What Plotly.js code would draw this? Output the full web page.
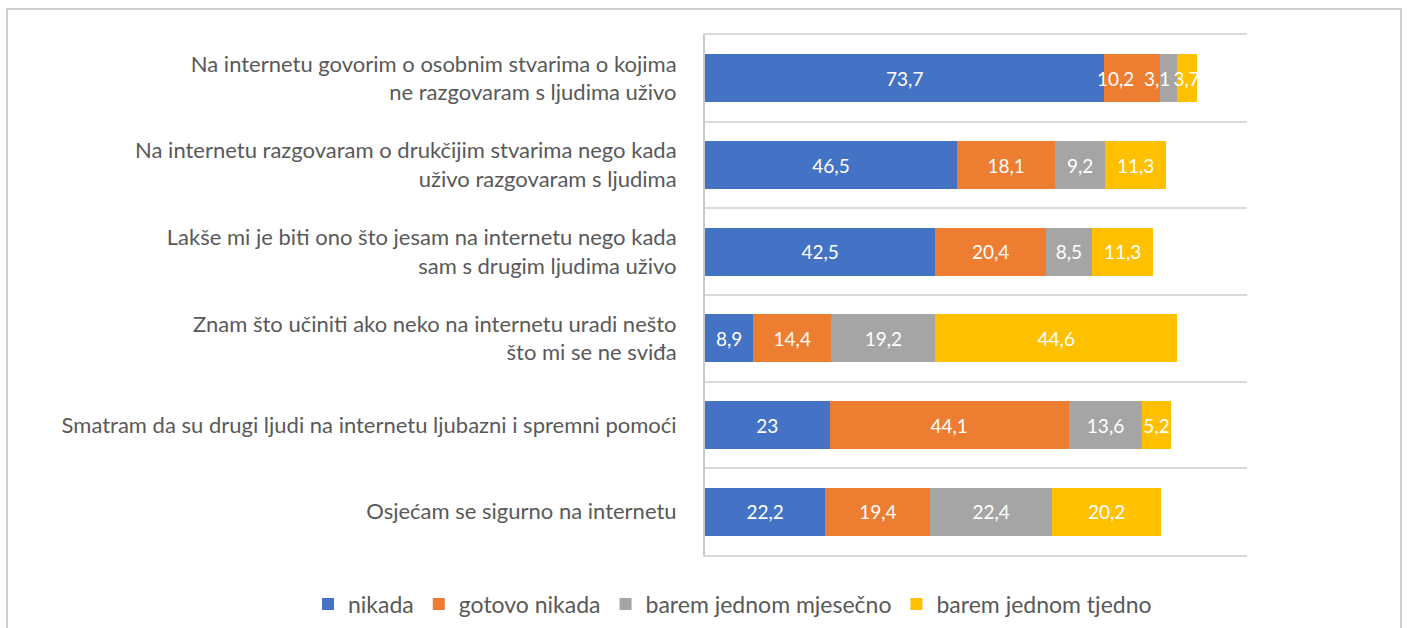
<!DOCTYPE html>
<html>
<head>
<meta charset="utf-8">
<script src="https://cdn.plot.ly/plotly-3.0.1.min.js"></script>
<style>
  html, body { margin: 0; padding: 0; background: #ffffff; }
  #chart { width: 1407px; height: 628px; }
  #frame { position: absolute; left: 6px; top: 8px; width: 1396px; height: 640px;
           border: 2px solid #d0d0d0; pointer-events: none; box-sizing: border-box; }
</style>
</head>
<body>
<div id="chart"></div>
<div id="frame"></div>
<script>
const categories = [
  "Na internetu govorim o osobnim stvarima o kojima<br>ne razgovaram s ljudima uživo",
  "Na internetu razgovaram o drukčijim stvarima nego kada<br>uživo razgovaram s ljudima",
  "Lakše mi je biti ono što jesam na internetu nego kada<br>sam s drugim ljudima uživo",
  "Znam što učiniti ako neko na internetu uradi nešto<br>što mi se ne sviđa",
  "Smatram da su drugi ljudi na internetu ljubazni i spremni pomoći",
  "Osjećam se sigurno na internetu"
];
const seriesNames = ["nikada", "gotovo nikada", "barem jednom mjesečno", "barem jednom tjedno"];
const nikada        = [73.7, 46.5, 42.5, 8.9, 23.0, 22.2];
const gotovoNikada  = [10.2, 18.1, 20.4, 14.4, 44.1, 19.4];
const mjesecno      = [3.1, 9.2, 8.5, 19.2, 13.6, 22.4];
const tjedno        = [3.7, 11.3, 11.3, 44.6, 5.2, 20.2];
const colors = ["#4472C4", "#ED7D31", "#A5A5A5", "#FFC000"];

// Label nudges for the crowded first row (style only): number of trailing figure spaces
// used to shift a label leftwards, as the reference does for the narrow segments.
const labelNudge = { "1-0": 3, "2-0": 2 };

const fmt = v => String(v).replace('.', ',');
const FONT = "Lato, 'Open Sans', sans-serif";

const traces = [nikada, gotovoNikada, mjesecno, tjedno].map((vals, i) => ({
  type: 'bar',
  orientation: 'h',
  name: seriesNames[i],
  x: vals,
  y: categories,
  text: vals.map((v, j) => fmt(v) + '\u2007'.repeat(labelNudge[i + '-' + j] || 0)),
  textposition: 'inside',
  insidetextanchor: 'middle',
  textangle: 0,
  constraintext: 'none',
  textfont: { family: FONT, size: 19, color: '#ffffff' },
  marker: { color: colors[i], line: { width: 0 } },
  hoverinfo: 'name+x'
}));

const layout = {
  width: 1407,
  height: 628,
  margin: { l: 705, r: 160, t: 35, b: 73, autoexpand: false },
  paper_bgcolor: '#ffffff',
  plot_bgcolor: '#ffffff',
  barmode: 'stack',
  bargap: 0.445,
  uniformtext: { mode: 'show', minsize: 19 },
  font: { family: FONT, color: '#595959', size: 22 },
  xaxis: {
    range: [0, 100],
    showgrid: false,
    zeroline: false,
    showticklabels: false,
    showline: true,
    mirror: true,
    linecolor: '#d9d9d9',
    linewidth: 2,
    ticks: '',
    fixedrange: true
  },
  yaxis: {
    type: 'category',
    categoryorder: 'array',
    categoryarray: categories,
    autorange: 'reversed',
    tickson: 'boundaries',
    showgrid: true,
    gridcolor: '#d9d9d9',
    gridwidth: 2,
    showline: true,
    linecolor: '#c8c8c8',
    linewidth: 2,
    ticks: '',
    ticklabelstandoff: 22,
    tickfont: { family: FONT, size: 22, color: '#595959' },
    zeroline: false,
    automargin: false,
    fixedrange: true
  },
  showlegend: true,
  legend: {
    orientation: 'h',
    x: -0.7325,
    xanchor: 'left',
    y: -0.0942,
    yanchor: 'middle',
    font: { family: FONT, size: 23, color: '#595959' },
    traceorder: 'normal',
    itemwidth: 30
  }
};

Plotly.newPlot('chart', traces, layout, { displayModeBar: false, staticPlot: true });
</script>
</body>
</html>
